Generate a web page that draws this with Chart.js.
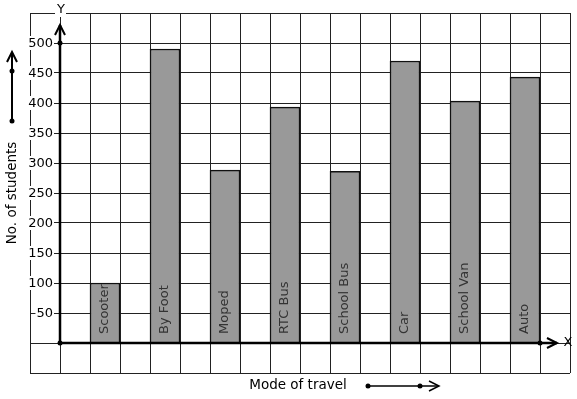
<!DOCTYPE html>
<html>
<head>
<meta charset="utf-8">
<script src="https://cdn.jsdelivr.net/npm/chart.js@4"></script>
<style>
    html, body { margin: 0; padding: 0; background: #fff; }
    canvas { display: block; }
</style>
</head>
<body>
<canvas id="grafico" width="577" height="399"></canvas>
<script>
const modos = ["Scooter", "By Foot", "Moped", "RTC Bus", "School Bus", "Car", "School Van", "Auto"];
const alunos = [100, 490, 288, 393, 286, 470, 403, 443];
const ticksY = [50, 100, 150, 200, 250, 300, 350, 400, 450, 500];

const FONTE = "DejaVu Sans";
const totalColunas = 18;

/* ------------------------------
   Monta colunas da grade (bar a cada 2 colunas)
-------------------------------*/
function montarColunas() {
    const labels = [];
    const dados = [];
    for (let i = 0; i < totalColunas; i++) {
        labels.push("");
        dados.push(null);
    }
    modos.forEach((m, i) => {
        labels[2 + 2 * i] = m;
        dados[2 + 2 * i] = alunos[i];
    });
    return { labels, dados };
}

function seta(ctx, x, y, dir) {
    ctx.beginPath();
    if (dir === "up") {
        ctx.moveTo(x - 5, y + 10);
        ctx.lineTo(x, y);
        ctx.lineTo(x + 5, y + 10);
    } else {
        ctx.moveTo(x - 10, y - 5);
        ctx.lineTo(x, y);
        ctx.lineTo(x - 10, y + 5);
    }
    ctx.stroke();
}

function ponto(ctx, x, y) {
    ctx.beginPath();
    ctx.arc(x, y, 2.5, 0, Math.PI * 2);
    ctx.fill();
}

/* ------------------------------
   Eixos, setas e textos
-------------------------------*/
const extras = {
    id: "extras",
    afterDatasetsDraw(chart) {
        const ctx = chart.ctx;
        const sx = chart.scales.x;
        const sy = chart.scales.y;
        const x0 = sx.getPixelForValue(1) - 15;
        const y0 = sy.getPixelForValue(0);

        ctx.save();
        ctx.fillStyle = "#000";
        ctx.strokeStyle = "#000";

        // rótulos dentro das barras
        ctx.font = "13px " + FONTE;
        ctx.fillStyle = "#333";
        ctx.textAlign = "left";
        ctx.textBaseline = "middle";
        chart.getDatasetMeta(0).data.forEach((bar, i) => {
            const nome = chart.data.labels[i];
            if (!nome) return;
            ctx.save();
            ctx.translate(bar.x, y0 - 9);
            ctx.rotate(-Math.PI / 2);
            ctx.fillText(nome, 0, 0);
            ctx.restore();
        });

        // ticks do eixo Y com fundo branco
        ctx.font = "13px " + FONTE;
        ctx.textAlign = "right";
        ticksY.forEach(v => {
            const y = sy.getPixelForValue(v);
            const txt = String(v);
            const w = ctx.measureText(txt).width;
            ctx.fillStyle = "#fff";
            ctx.fillRect(x0 - 7 - w - 1, y - 7, w + 2, 14);
            ctx.fillStyle = "#000";
            ctx.fillText(txt, x0 - 7, y + 1);
        });

        // eixo Y
        ctx.lineWidth = 2.5;
        ctx.beginPath();
        ctx.moveTo(x0, y0);
        ctx.lineTo(x0, 25);
        ctx.stroke();
        ctx.lineWidth = 2;
        seta(ctx, x0, 25, "up");
        ponto(ctx, x0, sy.getPixelForValue(500));
        ponto(ctx, x0, y0);

        // eixo X
        const xFim = 557;
        ctx.lineWidth = 2.5;
        ctx.beginPath();
        ctx.moveTo(x0, y0);
        ctx.lineTo(xFim, y0);
        ctx.stroke();
        ctx.lineWidth = 2;
        seta(ctx, xFim, y0, "right");
        ponto(ctx, 540, y0);

        // letras dos eixos
        ctx.textAlign = "center";
        ctx.fillStyle = "#fff";
        ctx.fillRect(x0 - 5, 4, 11, 13);
        ctx.fillStyle = "#000";
        ctx.fillText("Y", x0 + 1, 10);
        ctx.fillText("X", 568, y0);

        // título Y com seta
        ctx.font = "13.5px " + FONTE;
        ctx.save();
        ctx.translate(12, 193);
        ctx.rotate(-Math.PI / 2);
        ctx.fillText("No. of students", 0, 0);
        ctx.restore();
        ctx.lineWidth = 2;
        ctx.beginPath();
        ctx.moveTo(12, 121);
        ctx.lineTo(12, 52);
        ctx.stroke();
        seta(ctx, 12, 52, "up");
        ponto(ctx, 12, 121);
        ponto(ctx, 12, 71);

        // título X com seta
        ctx.fillText("Mode of travel", 298, 385);
        ctx.lineWidth = 1.5;
        ctx.beginPath();
        ctx.moveTo(368, 386);
        ctx.lineTo(438, 386);
        ctx.stroke();
        seta(ctx, 439, 386, "right");
        ponto(ctx, 368, 386);
        ponto(ctx, 420, 386);

        ctx.restore();
    }
};

function montarGrafico() {
    const { labels, dados } = montarColunas();
    const ctx = document.getElementById("grafico");

    new Chart(ctx, {
        type: "bar",
        data: {
            labels: labels,
            datasets: [{
                data: dados,
                backgroundColor: "#999999",
                borderColor: "#111",
                borderWidth: 1.5,
                categoryPercentage: 1,
                barPercentage: 1
            }]
        },
        options: {
            responsive: false,
            animation: false,
            devicePixelRatio: 1,
            layout: { padding: { left: 30, top: 13, right: 7, bottom: 26 } },
            plugins: { legend: { display: false }, tooltip: { enabled: false } },
            scales: {
                x: {
                    ticks: { display: false },
                    grid: { color: "#222", lineWidth: 1, drawTicks: false },
                    border: { display: false }
                },
                y: {
                    min: -50,
                    max: 550,
                    ticks: { display: false, stepSize: 50 },
                    grid: { color: "#222", lineWidth: 1, drawTicks: false },
                    border: { display: false }
                }
            }
        },
        plugins: [extras]
    });
}

montarGrafico();
</script>
</body>
</html>
